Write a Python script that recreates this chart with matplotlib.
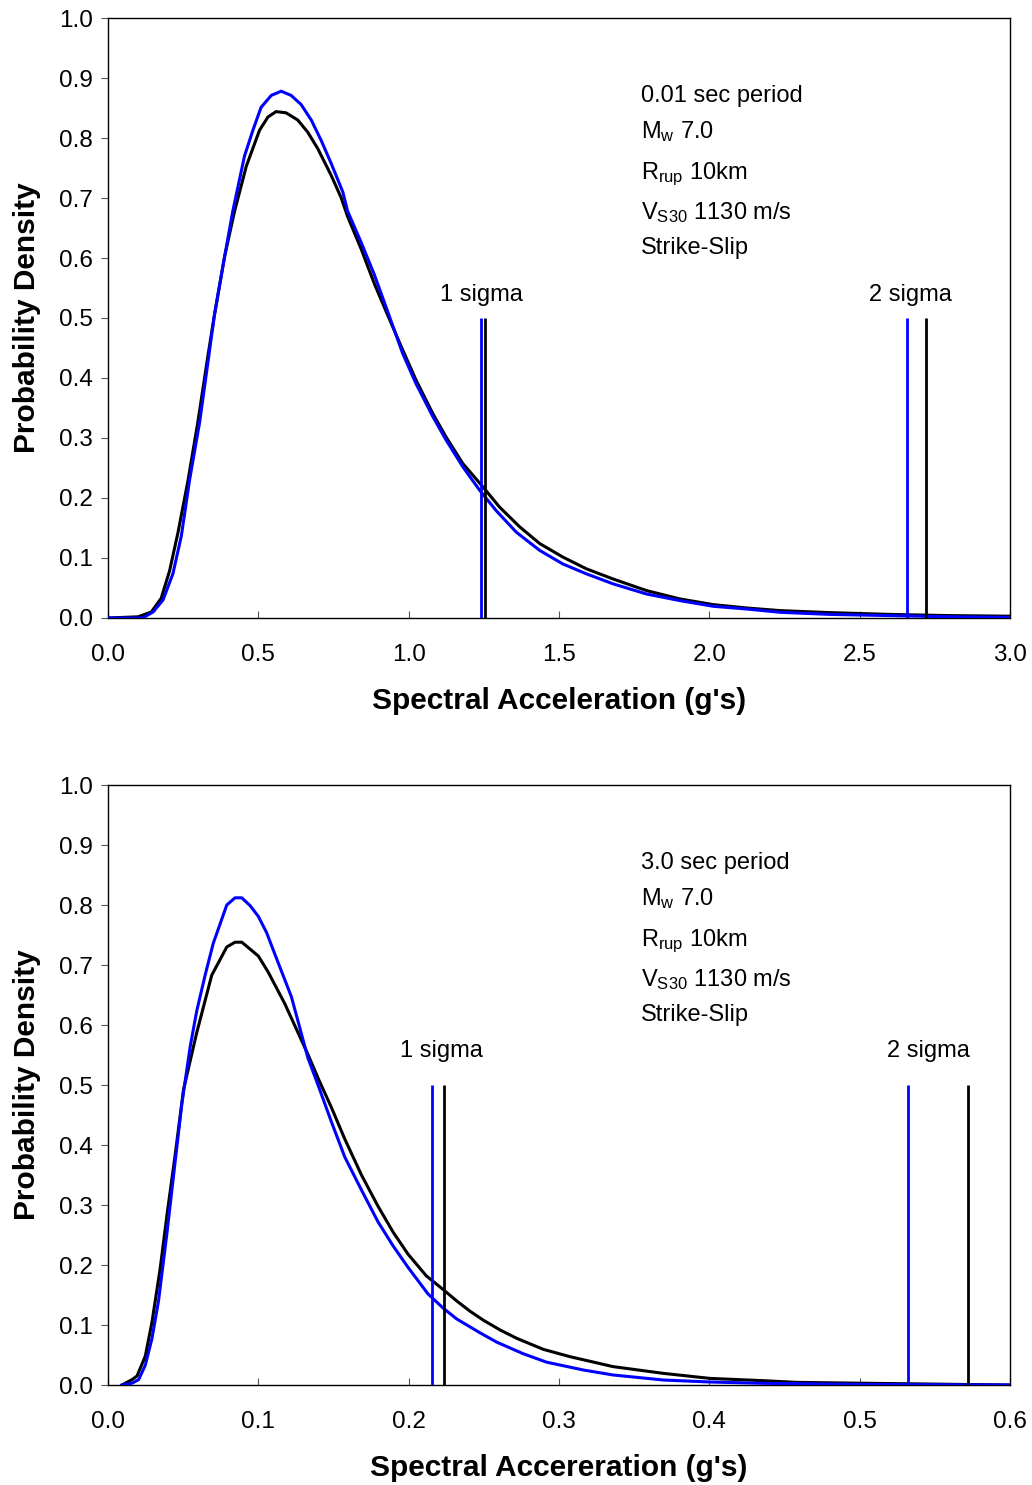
import matplotlib
matplotlib.use("Agg")
import matplotlib.pyplot as plt

plt.rcParams['font.family'] = ['Liberation Sans', 'DejaVu Sans']
plt.rcParams['mathtext.fontset'] = 'custom'
plt.rcParams['mathtext.rm'] = 'Liberation Sans'
plt.rcParams['mathtext.it'] = 'Liberation Sans'

# ---------------- data: top panel (0.01 sec period) ----------------
top_black_x = [0, 0.10, 0.144, 0.177, 0.205, 0.233, 0.266, 0.299, 0.332, 0.354, 0.388, 0.421, 0.46,
               0.504, 0.532, 0.559, 0.592, 0.631, 0.664, 0.698, 0.742, 0.775, 0.797, 0.842, 0.886,
               0.930, 0.98, 1.024, 1.08, 1.124, 1.18, 1.247, 1.302, 1.369, 1.436, 1.513, 1.591,
               1.68, 1.791, 1.902, 2.013, 2.124, 2.236, 2.4, 2.6, 2.8, 3.0]
top_black_y = [0, 0.002, 0.010, 0.033, 0.079, 0.143, 0.229, 0.327, 0.436, 0.505, 0.603, 0.678, 0.753,
               0.813, 0.835, 0.844, 0.842, 0.830, 0.810, 0.782, 0.738, 0.701, 0.669, 0.615, 0.557,
               0.505, 0.447, 0.397, 0.341, 0.302, 0.2575, 0.2185, 0.185, 0.152, 0.124, 0.1015, 0.082,
               0.065, 0.0457, 0.0318, 0.0223, 0.0167, 0.0123, 0.009, 0.006, 0.004, 0.003]

top_blue_x = [0, 0.11, 0.122, 0.15, 0.183, 0.216, 0.244, 0.271, 0.305, 0.332, 0.354, 0.382, 0.415,
              0.454, 0.482, 0.509, 0.543, 0.576, 0.609, 0.642, 0.676, 0.709, 0.742, 0.781, 0.797,
              0.842, 0.886, 0.93, 0.98, 1.024, 1.08, 1.124, 1.18, 1.236, 1.291, 1.358, 1.436, 1.513,
              1.591, 1.68, 1.791, 1.902, 2.013, 2.124, 2.236, 2.4, 2.6, 2.8, 3.0]
top_blue_y = [0, 0, 0.002, 0.010, 0.030, 0.074, 0.137, 0.229, 0.327, 0.425, 0.505, 0.586, 0.678,
              0.770, 0.813, 0.851, 0.871, 0.878, 0.871, 0.856, 0.830, 0.796, 0.758, 0.710, 0.678,
              0.626, 0.572, 0.511, 0.441, 0.391, 0.336, 0.297, 0.252, 0.213, 0.179, 0.143, 0.1126,
              0.090, 0.0736, 0.0569, 0.040, 0.029, 0.0195, 0.015, 0.0095, 0.006, 0.004, 0.002, 0.001]

top_sigma1 = {'blue': 1.241, 'black': 1.254}
top_sigma2 = {'blue': 2.657, 'black': 2.72}

# ---------------- data: bottom panel (3.0 sec period) ----------------
bot_black_x = [0.0093, 0.016, 0.0193, 0.0248, 0.0292, 0.0347, 0.0392, 0.0447, 0.0502, 0.059, 0.069,
               0.079, 0.0845, 0.089, 0.100, 0.1066, 0.1177, 0.133, 0.140, 0.1487, 0.1575, 0.1686,
               0.1796, 0.1896, 0.1996, 0.2117, 0.223, 0.232, 0.2408, 0.2497, 0.2608, 0.2719, 0.2896,
               0.3073, 0.336, 0.3694, 0.4005, 0.436, 0.458, 0.5, 0.55, 0.6]
bot_black_y = [0, 0.009, 0.015, 0.048, 0.104, 0.194, 0.283, 0.384, 0.492, 0.587, 0.683,
               0.730, 0.738, 0.738, 0.715, 0.688, 0.635, 0.551, 0.510, 0.462, 0.410, 0.350,
               0.298, 0.255, 0.218, 0.182, 0.159, 0.140, 0.123, 0.108, 0.0917, 0.0778, 0.0594,
               0.0472, 0.0306, 0.0194, 0.011, 0.0072, 0.0044, 0.003, 0.0015, 0.0]

bot_blue_x = [0.0093, 0.016, 0.0204, 0.0248, 0.0292, 0.0336, 0.0392, 0.0447, 0.0491, 0.0546, 0.059,
              0.0646, 0.070, 0.079, 0.0845, 0.089, 0.0945, 0.100, 0.1055, 0.111, 0.122, 0.133, 0.140,
              0.1487, 0.1575, 0.1686, 0.1796, 0.1896, 0.1996, 0.2128, 0.223, 0.232, 0.2475, 0.2586,
              0.2763, 0.2918, 0.3162, 0.336, 0.3694, 0.4005, 0.436, 0.5, 0.55, 0.6]
bot_blue_y = [0, 0.003, 0.009, 0.033, 0.077, 0.14, 0.253, 0.373, 0.468, 0.563, 0.623,
              0.683, 0.736, 0.80, 0.812, 0.812, 0.799, 0.781, 0.754, 0.718, 0.647, 0.545, 0.498,
              0.438, 0.380, 0.325, 0.272, 0.232, 0.196, 0.152, 0.128, 0.110, 0.0869, 0.0714,
              0.052, 0.038, 0.025, 0.0167, 0.0083, 0.005, 0.0028, 0.001, 0.0005, 0.0]

bot_sigma1 = {'blue': 0.2155, 'black': 0.2235}
bot_sigma2 = {'blue': 0.532, 'black': 0.572}

y_ticks = [0.0, 0.1, 0.2, 0.3, 0.4, 0.5, 0.6, 0.7, 0.8, 0.9, 1.0]
top_x_ticks = [0.0, 0.5, 1.0, 1.5, 2.0, 2.5, 3.0]
bot_x_ticks = [0.0, 0.1, 0.2, 0.3, 0.4, 0.5, 0.6]

top_xlabel = "Spectral Acceleration (g's)"
bot_xlabel = "Spectral Accereration (g's)"
ylabel = "Probability Density"

top_info = ["0.01 sec period", r"M$_{\mathrm{w}}$ 7.0", r"R$_{\mathrm{rup}}$ 10km",
            r"V$_{\mathrm{S30}}$ 1130 m/s", "Strike-Slip"]
bot_info = ["3.0 sec period", r"M$_{\mathrm{w}}$ 7.0", r"R$_{\mathrm{rup}}$ 10km",
            r"V$_{\mathrm{S30}}$ 1130 m/s", "Strike-Slip"]

BLUE = '#0000FF'

fig = plt.figure(figsize=(10.32, 14.85), dpi=100)
W, H = 1032, 1485


def make_ax(top_px):
    left = 108 / W
    width = (1010 - 108) / W
    height = 600 / H
    bottom = (H - top_px - 600) / H
    return fig.add_axes([left, bottom, width, height])


def style(ax, xmax, xticks, xlabel):
    ax.set_xlim(0, xmax)
    ax.set_ylim(0, 1.0)
    ax.set_xticks(xticks)
    ax.set_xticklabels([f"{t:.1f}" for t in xticks])
    ax.set_yticks(y_ticks)
    ax.set_yticklabels([f"{t:.1f}" for t in y_ticks])
    ax.tick_params(axis='x', direction='in', length=5, width=0.8, color='#555555',
                   labelsize=17.5, pad=19)
    ax.tick_params(axis='y', direction='out', length=5, width=0.8, color='#555555',
                   labelsize=17.5, pad=6)
    for s in ax.spines.values():
        s.set_linewidth(1.0)
        s.set_color('black')
    ax.set_xlabel(xlabel, fontsize=21.5, fontweight='bold', labelpad=15)
    ax.set_ylabel(ylabel, fontsize=21.5, fontweight='bold', labelpad=13)


def draw(ax, bx, by, blx, bly, s1, s2, xmax, info, s1x, s2x, sig_y):
    ax.plot(bx, by, color='black', lw=2.2, zorder=3, solid_joinstyle='round')
    ax.plot(blx, bly, color=BLUE, lw=2.2, zorder=3, solid_joinstyle='round')
    ax.vlines([s1['blue'], s2['blue']], 0, 0.5, colors=BLUE, lw=2.0, zorder=4)
    ax.vlines([s1['black'], s2['black']], 0, 0.5, colors='black', lw=2.0, zorder=4)
    ax.text(s1x, sig_y, "1 sigma", ha='center', va='baseline', fontsize=17)
    ax.text(s2x, sig_y, "2 sigma", ha='center', va='baseline', fontsize=17)
    baselines_px = [84, 120, 161, 201, 236]
    for t, b in zip(info, baselines_px):
        ax.text((641 - 108) / 902 * xmax, 1 - b / 600, t, ha='left', va='baseline', fontsize=17,
                transform=ax.transData)


ax1 = make_ax(18)
style(ax1, 3.0, top_x_ticks, top_xlabel)
draw(ax1, top_black_x, top_black_y, top_blue_x, top_blue_y, top_sigma1, top_sigma2, 3.0,
     top_info, 1.2435, 2.67, 1 - 283 / 600)

ax2 = make_ax(785)
style(ax2, 0.6, bot_x_ticks, bot_xlabel)
draw(ax2, bot_black_x, bot_black_y, bot_blue_x, bot_blue_y, bot_sigma1, bot_sigma2, 0.6,
     bot_info, 0.2215, 0.5455, 1 - 272 / 600)

fig.savefig("out.png", dpi=100)
